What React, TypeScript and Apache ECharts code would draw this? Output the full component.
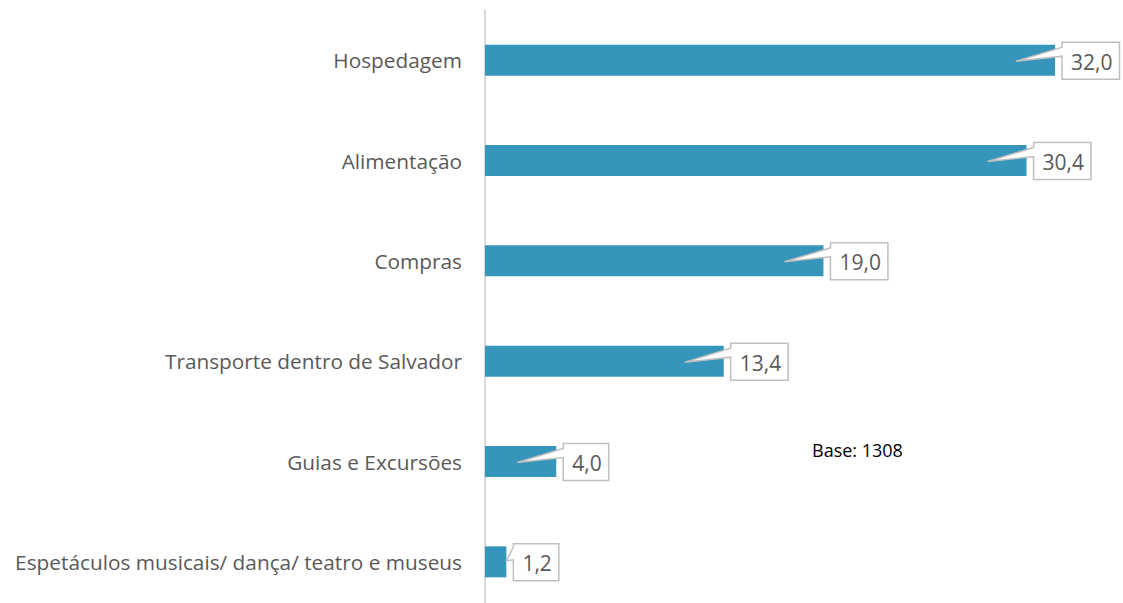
import React, { useEffect, useRef } from "react";
import * as echarts from "echarts";

const categories = [
  "Hospedagem",
  "Alimentação",
  "Compras",
  "Transporte dentro de Salvador",
  "Guias e Excursões",
  "Espetáculos musicais/ dança/ teatro e museus",
];
const values = [32.0, 30.4, 19.0, 13.4, 4.0, 1.2];
const valueLabels = ["32,0", "30,4", "19,0", "13,4", "4,0", "1,2"];
const baseNote = "Base: 1308";

const LABEL_FONT = "21px 'Open Sans'";

let measureCtx: CanvasRenderingContext2D | null = null;
function textWidth(t: string): number {
  if (!measureCtx) {
    const c = document.createElement("canvas");
    measureCtx = c.getContext("2d");
  }
  if (!measureCtx) return t.length * 11;
  measureCtx.font = LABEL_FONT;
  return measureCtx.measureText(t).width;
}

export default function App() {
  const ref = useRef<HTMLDivElement>(null);
  useEffect(() => {
    if (!ref.current) return;
    const chart = echarts.init(ref.current, undefined, { renderer: "svg" });
    chart.setOption({
      animation: false,
      grid: { left: 485, right: 14.5, top: 10, bottom: 0, containLabel: false },
      xAxis: {
        type: "value",
        min: 0,
        max: 35,
        show: false,
      },
      yAxis: {
        type: "category",
        data: categories,
        inverse: true,
        axisLine: { show: true, lineStyle: { color: "#d9d9d9", width: 2 } },
        axisTick: { show: false },
        axisLabel: {
          margin: 23,
          fontFamily: "'Open Sans'",
          fontSize: 20.8,
          color: "#595959",
        },
      },
      series: [
        {
          type: "bar",
          data: values,
          barWidth: 31,
          itemStyle: { color: "#3595bb" },
          z: 2,
        },
        {
          type: "custom",
          clip: false,
          z: 5,
          data: values.map((v, i) => [v, i]),
          encode: { x: 0, y: 1 },
          renderItem: (params: any, api: any) => {
            const v = api.value(0);
            const idx = api.value(1);
            const end = api.coord([v, idx]);
            const start = api.coord([0, idx]);
            const ex = end[0];
            const cy = end[1];
            const label = valueLabels[params.dataIndex];
            const tw = textWidth(label);
            const bx = ex + 7;
            const bw = tw + 16;
            const top = cy - 18;
            const bottom = cy + 19;
            const long = ex - start[0] > 50;
            const tipX = long ? ex - 39 : ex;
            const tipY = long ? cy + 1 : cy - 1;
            const upper = long ? top + 5 : top + 3;
            const lower = long ? top + 14 : top + 16;
            return {
              type: "group",
              children: [
                {
                  type: "polygon",
                  shape: {
                    points: [
                      [tipX, tipY],
                      [bx, upper],
                      [bx, top],
                      [bx + bw, top],
                      [bx + bw, bottom],
                      [bx, bottom],
                      [bx, lower],
                    ],
                  },
                  style: { fill: "#ffffff", stroke: "#bfbfbf", lineWidth: 1.5 },
                },
                {
                  type: "text",
                  x: bx + bw / 2 + 1,
                  y: (top + bottom) / 2 + 1,
                  style: {
                    text: label,
                    font: LABEL_FONT,
                    fill: "#595959",
                    align: "center",
                    verticalAlign: "middle",
                  },
                },
              ],
            };
          },
        },
      ],
      graphic: [
        {
          type: "text",
          left: 812,
          top: 441,
          style: {
            text: baseNote,
            font: "18px 'Open Sans'",
            fill: "#000000",
          },
        },
      ],
    });
    return () => chart.dispose();
  }, []);
  return (
    <div
      ref={ref}
      style={{ position: "fixed", left: 0, top: 0, width: 1123, height: 612, background: "#ffffff" }}
    />
  );
}
